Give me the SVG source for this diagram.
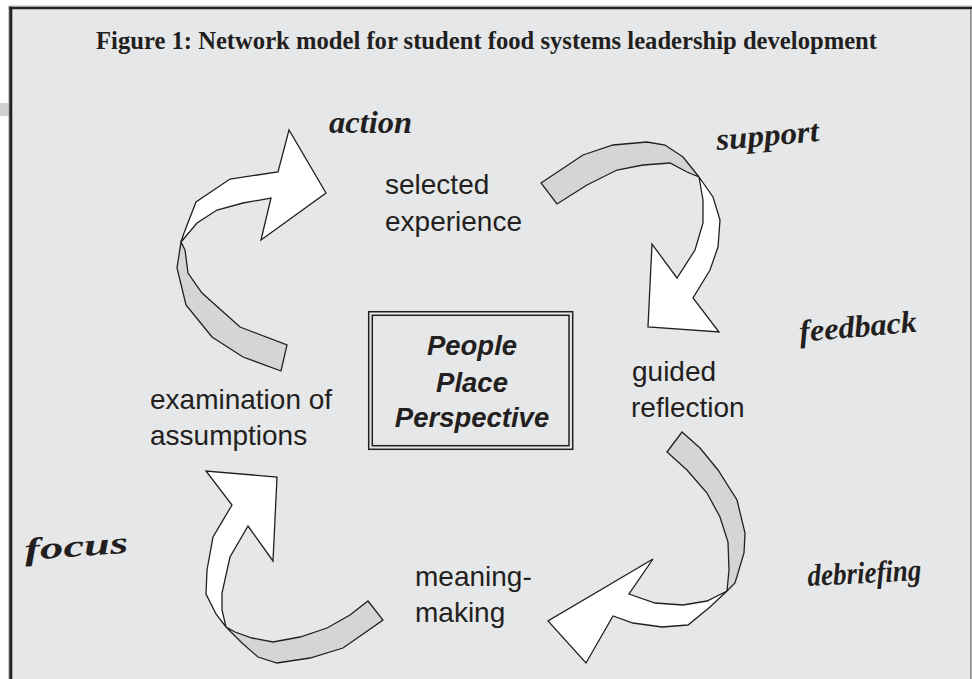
<svg xmlns="http://www.w3.org/2000/svg" width="972" height="679" viewBox="0 0 972 679">
  <style>
    .title { font-family: "Liberation Serif", "Times New Roman", serif; font-weight: bold; font-size: 24.5px; fill: #231f20; }
    .label { font-family: "Liberation Sans", Arial, sans-serif; font-size: 28px; fill: #231f20; }
    .core { font-family: "Liberation Sans", Arial, sans-serif; font-size: 27.5px; font-weight: bold; font-style: italic; fill: #231f20; }
    .script { font-family: "Liberation Serif", "Times New Roman", serif; font-style: italic; font-weight: bold; font-size: 31px; fill: #231f20; }
    .top { fill: #ffffff; stroke: #231f20; stroke-width: 1.3; stroke-linejoin: miter; }
    .under { fill: #d4d5d7; stroke: #231f20; stroke-width: 1.3; stroke-linejoin: miter; }
  </style>

  <!-- page and frame -->
  <rect x="0" y="0" width="972" height="679" fill="#ffffff"/>
  <rect x="0" y="103" width="10" height="13" fill="#cfd0d2"/>
  <rect x="10" y="8" width="962" height="680" fill="#e6e7e8"/>
  <line x1="8.8" y1="6" x2="8.8" y2="679" stroke="#b0b0b0" stroke-width="1"/>
  <line x1="8.8" y1="6" x2="972" y2="6" stroke="#b0b0b0" stroke-width="1"/>
  <line x1="10.8" y1="6.7" x2="10.8" y2="679" stroke="#231f20" stroke-width="3"/>
  <line x1="9.3" y1="8" x2="972" y2="8" stroke="#231f20" stroke-width="2.6"/>
  <line x1="970.8" y1="9" x2="970.8" y2="679" stroke="#8a8a8a" stroke-width="1.6"/>

  <text class="title" x="486.5" y="49" text-anchor="middle" textLength="781" lengthAdjust="spacingAndGlyphs">Figure 1: Network model for student food systems leadership development</text>

  <!-- twisted ribbon arrows -->
  <g id="connectors">
    <g id="arrow-action">
      <polygon class="under" points="181,242 177,268 186,305 212,337 243,357 281,371 287,345 240,327 202,293 188,273 185,250"/>
      <polygon class="top" points="181,242 184,233 196,202 230,179 278,172 289,130 326,193 261,240 271,198 243,203 217,210 197,223"/>
    </g>
    <g id="arrow-support">
      <polygon class="under" points="541,183 583,155 613,145 647,142 665,145 683,157 699,177 687,172 670,163 643,165 617,170 587,185 557,204"/>
      <polygon class="top" points="699,177 713,197 720,220 718,247 710,270 693,298 719,332 648,327 652,244 677,278 695,250 703,223 703,200"/>
    </g>
    <g id="arrow-debriefing">
      <polygon class="under" points="667,452 682,432 700,448 718,470 737,500 745,533 744,553 735,583 727,591 729,570 728,542 720,517 707,493 687,470"/>
      <polygon class="top" points="727,591 710,607 688,625 662,627 633,623 613,616 586,663 548,621 653,559 629,594 655,603 683,605 707,601"/>
    </g>
    <g id="arrow-focus">
      <polygon class="under" points="368,601 383,620 343,648 310,658 277,663 258,657 242,643 226,627 235,632 252,638 273,642 300,637 327,628 350,615"/>
      <polygon class="top" points="226,627 216,614 206,594 207,570 213,537 232,505 206,471 277,477 273,561 248,526 230,557 222,593 222,610"/>
    </g>
  </g>

  <!-- stage labels -->
  <g id="node-selected-experience">
    <text class="label" x="385" y="194">selected</text>
    <text class="label" x="385" y="231">experience</text>
  </g>
  <g id="node-guided-reflection">
    <text class="label" x="632" y="381">guided</text>
    <text class="label" x="631" y="417">reflection</text>
  </g>
  <g id="node-meaning-making">
    <text class="label" x="415" y="586">meaning-</text>
    <text class="label" x="415" y="622">making</text>
  </g>
  <g id="node-examination">
    <text class="label" x="150" y="409">examination of</text>
    <text class="label" x="150" y="445">assumptions</text>
  </g>

  <!-- centre box -->
  <g id="node-core">
    <rect x="368.7" y="311.7" width="204" height="137.6" fill="none" stroke="#231f20" stroke-width="1.5"/>
    <rect x="372.3" y="315.3" width="196.7" height="130.4" fill="none" stroke="#231f20" stroke-width="1.5"/>
    <text class="core" x="472" y="355" text-anchor="middle">People</text>
    <text class="core" x="472" y="391.5" text-anchor="middle">Place</text>
    <text class="core" x="472" y="427" text-anchor="middle">Perspective</text>
  </g>

  <!-- process qualities -->
  <g id="qualities">
    <text class="script" x="329" y="133" textLength="83" lengthAdjust="spacingAndGlyphs">action</text>
    <text class="script" x="717" y="150" textLength="103" lengthAdjust="spacingAndGlyphs" transform="rotate(-5 717 150)">support</text>
    <text class="script" x="800" y="342" textLength="118" lengthAdjust="spacingAndGlyphs" transform="rotate(-5 800 342)">feedback</text>
    <text class="script" x="808" y="586" textLength="114" lengthAdjust="spacingAndGlyphs" transform="rotate(-3 808 586)">debriefing</text>
    <text class="script" x="25" y="560" textLength="104" lengthAdjust="spacingAndGlyphs" transform="rotate(-4 25 560)">focus</text>
  </g>
</svg>
